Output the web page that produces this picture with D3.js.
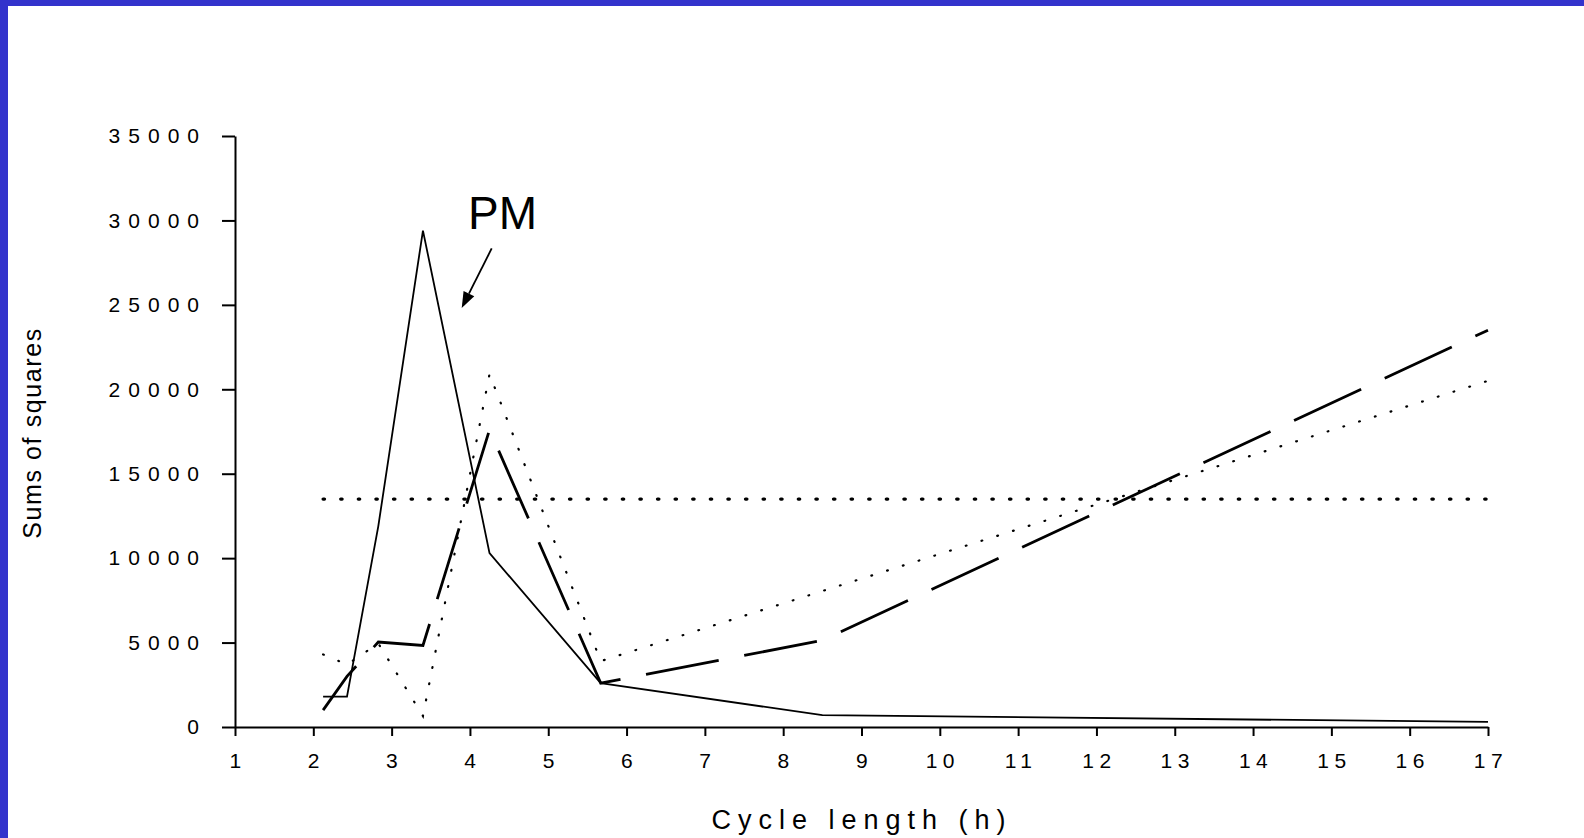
<!DOCTYPE html>
<html>
<head>
<meta charset="utf-8">
<script src="https://cdn.jsdelivr.net/npm/d3@7"></script>
<style>
  html, body { margin: 0; padding: 0; background: #fff; }
  svg { display: block; font-family: "Liberation Sans", Arial, sans-serif; }
</style>
</head>
<body>
<div id="chart"></div>
<script>
// harmonics of 17 h
const cycleLength = [2.125, 2.43, 2.83, 3.4, 4.25, 5.67, 8.5, 17];
const solidSeries = [1800, 1800, 11900, 29400, 10300, 2600, 700, 300];
const dashedSeries = [1000, 3000, 5030, 4830, 17600, 2600, 5130, 23500];
const dottedSeries = [4300, 3700, 4950, 650, 20900, 3900, 8050, 20500];
const thresholdX = [2.125, 17];
const thresholdValue = 13500;

const xTicks = d3.range(1, 18);
const yTicks = [0, 5000, 10000, 15000, 20000, 25000, 30000, 35000];

// annotation, in data units
const pmLabel = { x: 3.976, y: 29500, text: "PM" };
const pmArrow = { from: [4.278, 28340], to: [3.895, 24820] };

const W = 1584, H = 838;
const margin = { top: 136, right: 96, bottom: 111, left: 235 };

const svg = d3.select("#chart")
  .append("svg")
    .attr("width", W)
    .attr("height", H);

// frame
svg.append("rect").attr("width", W).attr("height", H).attr("fill", "#fff");
svg.append("rect").attr("width", W).attr("height", 6).attr("fill", "#3333cc");
svg.append("rect").attr("width", 8).attr("height", H).attr("fill", "#3333cc");

const xScale = d3.scaleLinear().domain([1, 17]).range([margin.left, W - margin.right]);
const yScale = d3.scaleLinear().domain([0, 35000]).range([H - margin.bottom, margin.top]);

const xAxis = d3.axisBottom(xScale).tickValues(xTicks).tickSize(9).tickSizeOuter(0).tickPadding(17);
const yAxis = d3.axisLeft(yScale).tickValues(yTicks).tickSize(13).tickSizeOuter(0)
  .tickPadding(15).tickFormat(d3.format("d"));

const gx = svg.append("g")
  .attr("transform", `translate(0,${H - margin.bottom})`)
  .call(xAxis);
gx.selectAll("text")
  .attr("font-size", 21)
  .attr("letter-spacing", 5.5)
  .attr("dx", 2.5)
  .attr("fill", "#000");

const gy = svg.append("g")
  .attr("transform", `translate(${margin.left},0)`)
  .call(yAxis);
gy.selectAll("text")
  .attr("font-size", 21)
  .attr("letter-spacing", 8)
  .attr("fill", "#000");

svg.selectAll(".domain, .tick line")
  .attr("stroke", "#000")
  .attr("stroke-width", 2);

// axis titles
svg.append("text")
  .attr("x", 862)
  .attr("y", 829)
  .attr("text-anchor", "middle")
  .attr("font-size", 27)
  .attr("letter-spacing", 7)
  .text("Cycle length (h)");

svg.append("text")
  .attr("transform", "translate(41,433) rotate(-90)")
  .attr("text-anchor", "middle")
  .attr("font-size", 25)
  .attr("letter-spacing", 1.6)
  .text("Sums of squares");

const line = d3.line()
  .x(d => xScale(d[0]))
  .y(d => yScale(d[1]));

const zip = vals => cycleLength.map((c, i) => [c, vals[i]]);

// threshold line
svg.append("path")
  .attr("d", line(thresholdX.map(c => [c, thresholdValue])))
  .attr("fill", "none")
  .attr("stroke", "#000")
  .attr("stroke-width", 3.3)
  .attr("stroke-linecap", "round")
  .attr("stroke-dasharray", "1.4 16.2");

// fine dotted series
svg.append("path")
  .attr("d", line(zip(dottedSeries)))
  .attr("fill", "none")
  .attr("stroke", "#000")
  .attr("stroke-width", 2.2)
  .attr("stroke-linecap", "round")
  .attr("stroke-dasharray", "0.8 15.7");

// dashed series
svg.append("path")
  .attr("d", line(zip(dashedSeries)))
  .attr("fill", "none")
  .attr("stroke", "#000")
  .attr("stroke-width", 2.8)
  .attr("stroke-dasharray", "74 26")
  .attr("stroke-dashoffset", 19);

// solid series
svg.append("path")
  .attr("d", line(zip(solidSeries)))
  .attr("fill", "none")
  .attr("stroke", "#000")
  .attr("stroke-width", 1.8)
  .attr("stroke-linejoin", "miter");

// PM annotation
svg.append("text")
  .attr("x", xScale(pmLabel.x))
  .attr("y", yScale(pmLabel.y))
  .attr("font-size", 46)
  .text(pmLabel.text);

const ax0 = xScale(pmArrow.from[0]), ay0 = yScale(pmArrow.from[1]);
const ax1 = xScale(pmArrow.to[0]), ay1 = yScale(pmArrow.to[1]);
const ang = Math.atan2(ay1 - ay0, ax1 - ax0);
const headLen = 16, headHalf = 6;
const bx = ax1 - headLen * Math.cos(ang), by = ay1 - headLen * Math.sin(ang);

svg.append("line")
  .attr("x1", ax0).attr("y1", ay0)
  .attr("x2", bx).attr("y2", by)
  .attr("stroke", "#000")
  .attr("stroke-width", 1.8);

svg.append("path")
  .attr("d", `M${ax1},${ay1}L${bx + headHalf * Math.sin(ang)},${by - headHalf * Math.cos(ang)}L${bx - headHalf * Math.sin(ang)},${by + headHalf * Math.cos(ang)}Z`)
  .attr("fill", "#000");
</script>
</body>
</html>
